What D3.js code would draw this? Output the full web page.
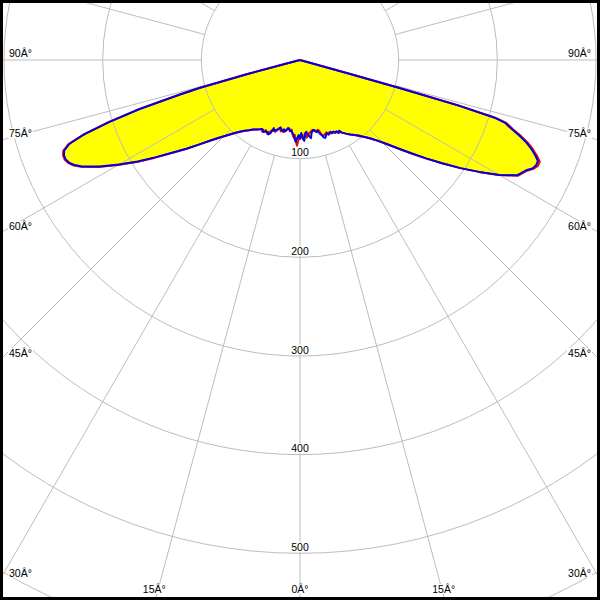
<!DOCTYPE html>
<html><head><meta charset="utf-8">
<script src="https://cdn.jsdelivr.net/npm/d3@7"></script>
<style>html,body{margin:0;padding:0;background:#fff}svg{display:block}</style>
</head><body>
<script>
// gamma angles in degrees (0 = straight down, negative = left half)
const angles = [
  -90,-80,-76,-75.5,-75,-74.5,-74,-73,-72,-71,-70,-69,-68,-67,-66,-65,-64,
  -62,-60,-58,-56,-54,-52,-50,-48,-46,-44,-42,-40,-38,-36,-34,-32,-30,
  -29,-28,-27,-26,-25,-24,-23,-22,-21,-20,-19,-18,-17,-16,-15,-14,-13,-12,-11,-10,
  -9,-8,-7,-6,-5,-4,-3,-2,-1,0,1,2,3,4,5,6,7,8,9,
  10,11,12,13,14,15,16,17,18,19,20,21,22,23,24,25,26,27,28,29,
  30,32,34,36,38,40,42,44,46,48,50,52,54,56,58,60,62,64,
  65,66,67,68,69,70,71,72,73,73.5,74,74.3,74.5,74.7,75,76,80,90
];
// intensity (cd) – red plane
const redValues = [
  0,0,0,16,56,106,126,171,204,232,250,257,259,259,257,253,247,
  231,213,195,177,160,146,133,122,113,106,100,95,91,88,85,83,81,
  80,82,81,79,80,82,80,77,77,76,77,75,72,73,75,73,75,74,72,71,
  70,72,71,75,78,76,82,87,80,77,76,80,77,74,79,77,75,74,73,
  72,73,73,74,73,74,78,80,80,79,78,80,79,81,80,81,82,82,84,
  83,85,88,91,94,98,102,107,114,123,134,147,162,178,196,214,233,250,
  256,261,264,264,259,253,246,237,227,219,207,167,104,52,0,0,0,0
];
// intensity (cd) – blue plane
const blueValues = [
  0,0,0,15,55,105,125,170,203,231,249,256,258,258,256,252,246,
  230,212,194,176,160,146,133,122,113,106,100,95,91,88,85,83,81,
  80,80,82,81,80,80,82,80,74,76,75,74,73,71,73,74,72,74,73,70,
  71,73,72,74,76,80,83,79,76,80,74,79,82,76,73,76,78,80,75,
  73,72,74,75,74,77,79,82,83,81,79,81,80,79,81,80,82,81,83,
  82,85,88,91,94,97,102,107,114,123,134,147,162,178,196,214,233,249,
  255,260,262,262,257,251,244,235,225,217,205,165,102,50,0,0,0,0
];
const ringValues = [100,200,300,400,500,600];
const ringLabels = ["100","200","300","400","500"];
const angleTicks = [-90,-75,-60,-45,-30,-15,0,15,30,45,60,75,90];
const angleLabels = ["90Â°","75Â°","60Â°","45Â°","30Â°","15Â°","0Â°","15Â°","30Â°","45Â°","60Â°","75Â°","90Â°"];

const W = 600, H = 600, cx = 300, cy = 60, B = 3;
const svg = d3.select("body").append("svg").attr("width", W).attr("height", H);
svg.append("rect").attr("width", W).attr("height", H).attr("fill", "#000");
svg.append("rect").attr("x", B).attr("y", B).attr("width", W - 2*B).attr("height", H - 2*B).attr("fill", "#fff");
svg.append("clipPath").attr("id", "clip").append("rect")
  .attr("x", B).attr("y", B).attr("width", W - 2*B).attr("height", H - 2*B);

const r = d3.scaleLinear().domain([0, 600]).range([0, 592]);
const toRad = g => Math.PI - g * Math.PI / 180;

const g = svg.append("g").attr("clip-path", "url(#clip)")
  .append("g").attr("transform", `translate(${cx},${cy})`);

const redData = angles.map((a, i) => ({a, v: redValues[i]}));
const blueData = angles.map((a, i) => ({a, v: blueValues[i]}));

const area = d3.areaRadial().angle(d => toRad(d.a)).innerRadius(0).outerRadius(d => r(d.v));
const line = d3.lineRadial().angle(d => toRad(d.a)).radius(d => r(d.v));

g.append("path").attr("d", area(redData)).attr("fill", "#ffff00");
g.append("path").attr("d", area(blueData)).attr("fill", "#ffff00");

// grid
const gridColor = "#bdbdbd";
g.selectAll("circle.ring").data(ringValues).join("circle")
  .attr("class", "ring").attr("r", d => r(d))
  .attr("fill", "none").attr("stroke", gridColor).attr("stroke-width", 1);
const spokes = d3.range(0, 360, 15);
g.selectAll("line.spoke").data(spokes).join("line")
  .attr("class", "spoke")
  .attr("x1", d => r(100) * Math.sin(d * Math.PI / 180))
  .attr("y1", d => r(100) * Math.cos(d * Math.PI / 180))
  .attr("x2", d => r(1000) * Math.sin(d * Math.PI / 180))
  .attr("y2", d => r(1000) * Math.cos(d * Math.PI / 180))
  .attr("stroke", gridColor).attr("stroke-width", 1);

// curves
g.append("path").attr("d", line(redData)).attr("fill", "none")
  .attr("stroke", "#ff0000").attr("stroke-width", 2).attr("stroke-linejoin", "round");
g.append("path").attr("d", line(blueData)).attr("fill", "none")
  .attr("stroke", "#0000e0").attr("stroke-width", 2).attr("stroke-linejoin", "round");

const font = "Liberation Sans, Arial, sans-serif";
function labelWithBg(parent, x, y, text, anchor) {
  const grp = parent.append("g");
  const bg = grp.append("rect").attr("fill", "#fff");
  const t = grp.append("text").attr("x", x).attr("y", y).attr("text-anchor", anchor)
    .attr("font-family", font).attr("font-size", "10.5px").attr("fill", "#000").text(text);
  const bb = t.node().getBBox();
  bg.attr("x", bb.x - 1).attr("y", bb.y + 1).attr("width", bb.width + 2).attr("height", bb.height - 2);
}

// ring labels
ringLabels.forEach((lab, i) => {
  labelWithBg(svg, cx, cy + r(ringValues[i]) - 2.5, lab, "middle");
});

// angle labels at the frame edge
angleTicks.forEach((a, i) => {
  const s = Math.sin(a * Math.PI / 180), c = Math.cos(a * Math.PI / 180);
  let tx = Infinity, ty = Infinity;
  if (s < -1e-9) tx = (0 - cx) / s; else if (s > 1e-9) tx = (W - cx) / s;
  if (c > 1e-9) ty = (H - cy) / c;
  if (ty < tx) {
    const xi = cx + ty * s;
    labelWithBg(svg, a === 0 ? xi : xi - 1, 593, angleLabels[i], "middle");
  } else {
    const yi = cy + tx * c;
    if (s < 0) labelWithBg(svg, 9, yi - 3, angleLabels[i], "start");
    else labelWithBg(svg, 591, yi - 3, angleLabels[i], "end");
  }
});
</script>
</body></html>
